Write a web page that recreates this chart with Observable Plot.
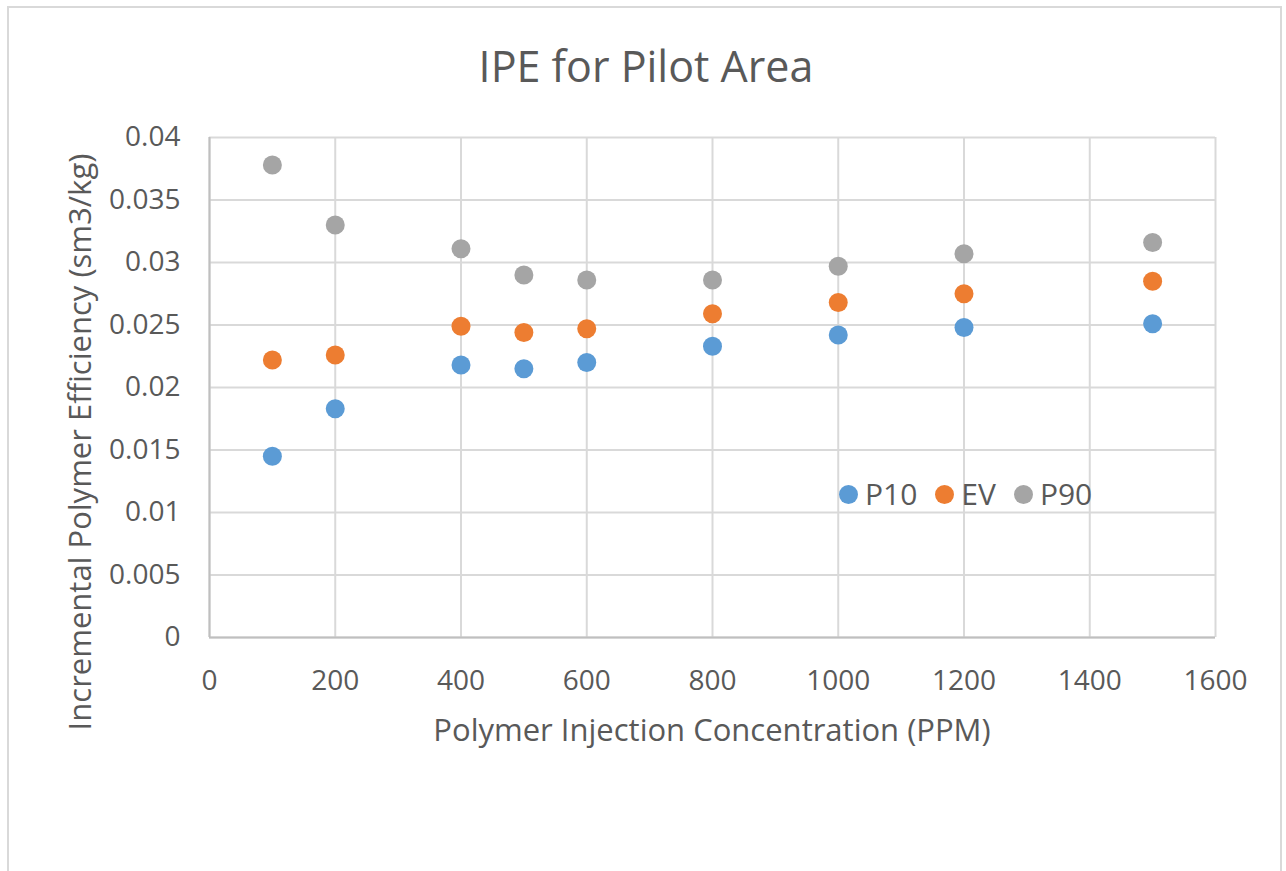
<!DOCTYPE html>
<html>
<head>
<meta charset="utf-8">
<script src="https://cdn.jsdelivr.net/npm/d3@7"></script>
<script src="https://cdn.jsdelivr.net/npm/@observablehq/plot@0.6"></script>
<style>
  html, body { margin: 0; padding: 0; background: #fff; overflow: hidden; }
  body { width: 1286px; height: 871px; position: relative; font-family: "Open Sans", sans-serif; color: #595959; }
  #frame { position: absolute; left: 7px; top: 6px; width: 1275px; height: 900px; border: 2px solid #D9D9D9; box-sizing: border-box; }
  #chart { position: absolute; left: 0; top: 0; }
  .title { position: absolute; left: 646px; top: 44px; transform: translateX(-50%); font-size: 43px; line-height: 1; white-space: nowrap; }
  .xlabel { position: absolute; left: 712px; top: 714px; transform: translateX(-50%); font-size: 31px; line-height: 1; white-space: nowrap; }
  .ylabel { position: absolute; left: 79px; top: 442px; transform: translate(-50%, -50%) rotate(-90deg); font-size: 31px; line-height: 1; white-space: nowrap; }
  .legend { position: absolute; left: 839px; top: 494px; transform: translateY(-50%); display: flex; align-items: center; font-size: 30px; line-height: 1; white-space: nowrap; }
  .legend .item { display: flex; align-items: center; margin-right: 18px; }
  .legend svg { margin-right: 7px; }
</style>
</head>
<body>
<div id="frame"></div>
<div id="chart"></div>
<div class="title">IPE for Pilot Area</div>
<div class="xlabel">Polymer Injection Concentration (PPM)</div>
<div class="ylabel">Incremental Polymer Efficiency (sm3/kg)</div>
<div class="legend" id="legend"></div>
<script>
// Polymer injection concentrations (PPM)
const concentration = [100, 200, 400, 500, 600, 800, 1000, 1200, 1500];
// Incremental polymer efficiency (sm3/kg) per case
const p10 = [0.0145, 0.0183, 0.0218, 0.0215, 0.0220, 0.0233, 0.0242, 0.0248, 0.0251];
const ev  = [0.0222, 0.0226, 0.0249, 0.0244, 0.0247, 0.0259, 0.0268, 0.0275, 0.0285];
const p90 = [0.0378, 0.0330, 0.0311, 0.0290, 0.0286, 0.0286, 0.0297, 0.0307, 0.0316];

const seriesNames = ["P10", "EV", "P90"];
const seriesColors = ["#5B9BD5", "#ED7D31", "#A5A5A5"];

const xTicks = [0, 200, 400, 600, 800, 1000, 1200, 1400, 1600];
const yTicks = [0, 0.005, 0.01, 0.015, 0.02, 0.025, 0.03, 0.035, 0.04];

const seriesValues = [p10, ev, p90];
const rows = seriesNames.flatMap((name, s) =>
  concentration.map((c, i) => ({series: name, ppm: c, ipe: seriesValues[s][i]}))
);

const chart = Plot.plot({
  width: 1286,
  height: 700,
  marginLeft: 209,
  marginRight: 71,
  marginTop: 137,
  marginBottom: 63,
  style: {fontFamily: "'Open Sans', sans-serif", fontSize: "28px", color: "#595959", background: "transparent", overflow: "visible"},
  x: {domain: [0, 1600]},
  y: {domain: [0, 0.04]},
  color: {domain: seriesNames, range: seriesColors},
  marks: [
    Plot.gridX(xTicks, {stroke: "#D9D9D9", strokeOpacity: 1, strokeWidth: 2}),
    Plot.gridY(yTicks, {stroke: "#D9D9D9", strokeOpacity: 1, strokeWidth: 2}),
    Plot.ruleX([0], {stroke: "#BFBFBF", strokeWidth: 2}),
    Plot.ruleY([0], {stroke: "#BFBFBF", strokeWidth: 2}),
    Plot.axisX(xTicks, {tickSize: 0, tickPadding: 33, label: null, tickFormat: d => String(d)}),
    Plot.axisY(yTicks, {tickSize: 0, tickPadding: 29, label: null, tickFormat: d => String(d)}),
    Plot.dot(rows, {x: "ppm", y: "ipe", fill: "series", r: 9.5, stroke: null})
  ]
});
document.getElementById("chart").appendChild(chart);

// Series legend
const legend = document.getElementById("legend");
seriesNames.forEach((name, i) => {
  const item = document.createElement("div");
  item.className = "item";
  item.innerHTML = `<svg width="19" height="19"><circle cx="9.5" cy="9.5" r="9.5" fill="${seriesColors[i]}"/></svg><span>${name}</span>`;
  legend.appendChild(item);
});
</script>
</body>
</html>
